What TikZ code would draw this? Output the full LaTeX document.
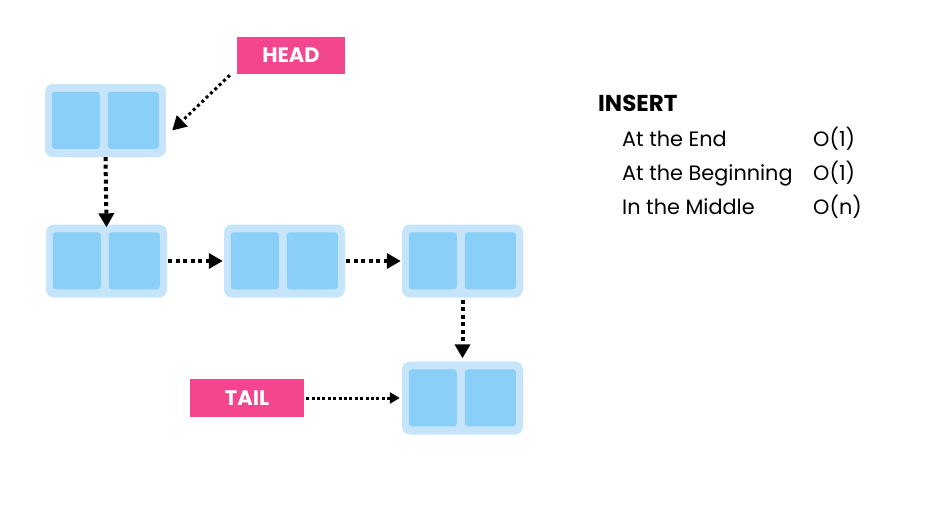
\documentclass[tikz,border=0pt]{standalone}
\usepackage{fontspec}
\setmainfont{Poppins}
\usetikzlibrary{calc,arrows.meta}
\definecolor{outerblue}{HTML}{C6E5FA}
\definecolor{innerblue}{HTML}{8ACFF7}
\definecolor{tagpink}{HTML}{F4468F}
\tikzset{
  outerbox/.style={fill=outerblue, rounded corners=8pt, minimum width=121pt, minimum height=73pt, inner sep=0pt, draw=none},
  tagbox/.style={fill=tagpink, text=white, font=\bfseries\fontsize{21}{21}\selectfont, inner sep=0pt, minimum height=37pt},
  ptr/.style={line width=4pt, dash pattern=on 4pt off 3.5pt, -{Triangle[length=14pt,width=15pt]}},
  thinptr/.style={line width=3pt, dash pattern=on 3pt off 2.4pt, -{Triangle[length=10pt,width=11pt]}},
  rowtext/.style={anchor=base west, inner sep=0pt, font=\fontsize{20.8}{20.8}\selectfont},
}
\newcommand\llnode[2]{%
  \node[outerbox] (#1) at (#2) {};
  \fill[innerblue, rounded corners=3pt] ($(#1.north west)+(7pt,-8pt)$) rectangle ($(#1.north west)+(55pt,-65pt)$);
  \fill[innerblue, rounded corners=3pt] ($(#1.north west)+(63pt,-8pt)$) rectangle ($(#1.north west)+(114pt,-65pt)$);
}
\begin{document}
\begin{tikzpicture}[x=1pt,y=-1pt]
\fill[white] (0,0) rectangle (929,517);
\useasboundingbox (0,0) rectangle (929,517);
\llnode{n1}{105.5,120.5}
\llnode{n2}{106.5,261}
\llnode{n3}{284.5,261}
\llnode{n4}{462.5,261}
\llnode{n5}{462.5,398}
\node[tagbox, minimum width=108pt] (head) at (291,55.5) {HEAD};
\node[tagbox, minimum width=114pt, minimum height=38pt] (tail) at (247,398) {TAIL};
\draw[ptr, line width=3pt, dash pattern=on 3pt off 3pt] ($(head.south west)+(-7pt,-1pt)$) -- ($(n1.east)+(6pt,-10pt)$);
\draw[ptr] (n1.south) -- ($(n2.north)+(0,-3pt)$);
\draw[ptr] ($(n2.east)+(1pt,0)$) -- ($(n3.west)+(-1pt,0)$);
\draw[ptr] ($(n3.east)+(1pt,0)$) -- ($(n4.west)+(-1pt,0)$);
\draw[ptr] ($(n4.south)+(0,-2pt)$) -- ($(n5.north)+(0,3pt)$);
\draw[thinptr] ($(tail.east)+(2pt,0)$) -- ($(n5.west)+(-2pt,0)$);
\node[rowtext, font=\bfseries\fontsize{23}{23}\selectfont] (ins) at (598,111) {INSERT};
\node[rowtext] (r1) at (622,146) {At the End};
\node[rowtext] (r2) at (622,180) {At the Beginning};
\node[rowtext] (r3) at (622,214) {In the Middle};
\node[rowtext] (c1) at (813,146) {O(1)};
\node[rowtext] (c2) at (813,180) {O(1)};
\node[rowtext] (c3) at (813,214) {O(n)};
\end{tikzpicture}
\end{document}
